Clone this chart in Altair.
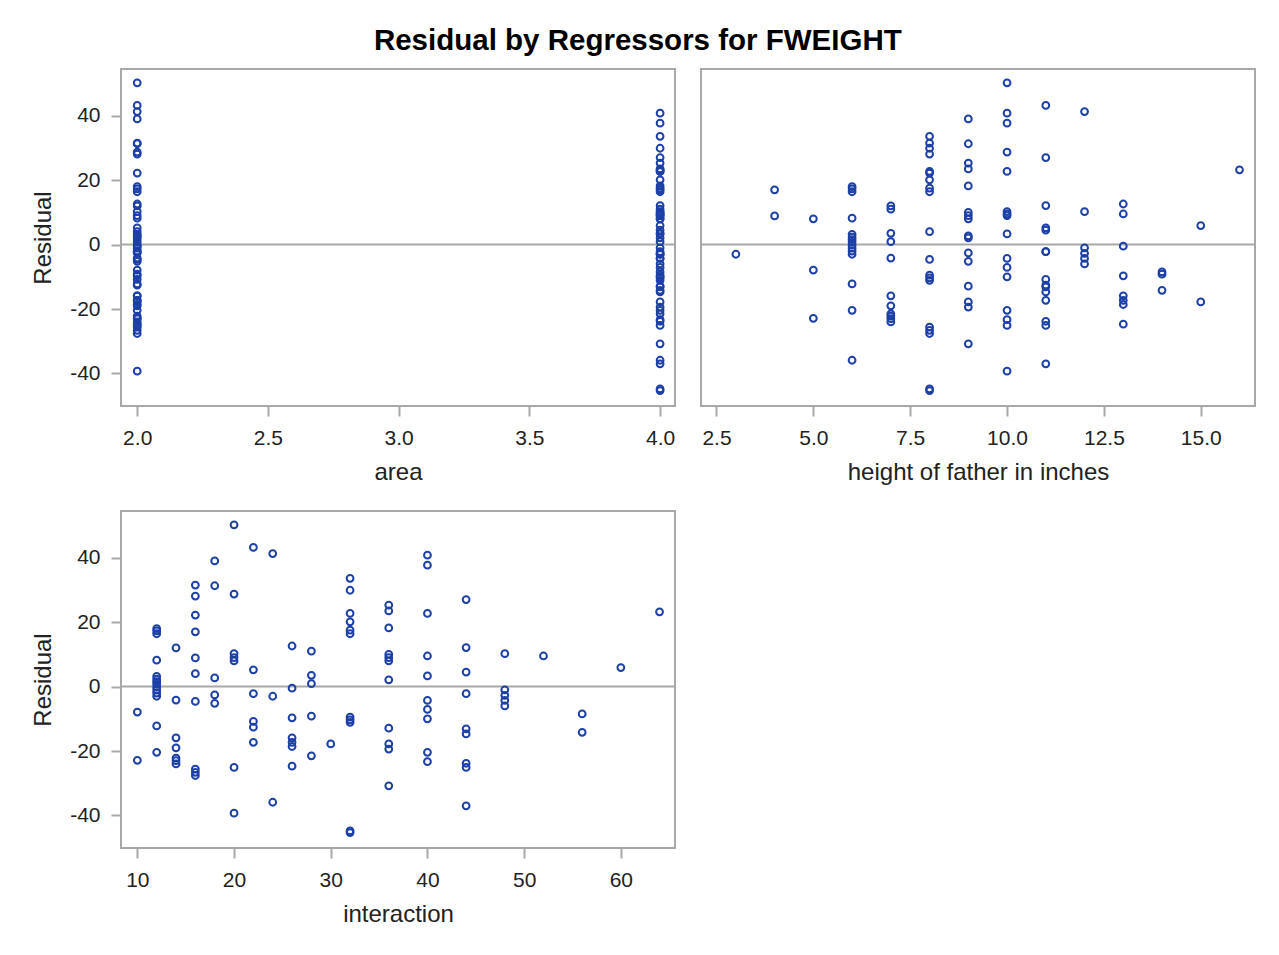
import altair as alt
import pandas as pd

# ---------------- data ----------------
area = [
    2, 2,
    2, 2, 2, 2, 2, 2, 2, 2, 2, 2, 2, 2, 2,
    2, 2, 2, 2, 2, 2, 2,
    2, 2, 2, 2, 2, 2, 2, 2,
    2, 2, 2, 2, 2,
    2, 2, 2, 2, 2, 2,
    2, 2, 2, 2, 2, 2,
    2,
    2, 2, 2, 2, 2, 2, 2,
    2,
    2,
    4,
    4, 4,
    4,
    4, 4,
    4, 4, 4, 4,
    4, 4, 4, 4, 4, 4, 4, 4, 4, 4, 4,
    4, 4, 4, 4, 4, 4, 4, 4, 4, 4, 4,
    4, 4, 4, 4, 4, 4, 4, 4, 4, 4,
    4, 4, 4, 4, 4, 4, 4, 4, 4,
    4, 4, 4, 4, 4,
    4,
    4, 4,
    4,
    4,
]

height = [
    5, 5,
    6, 6, 6, 6, 6, 6, 6, 6, 6, 6, 6, 6, 6,
    7, 7, 7, 7, 7, 7, 7,
    8, 8, 8, 8, 8, 8, 8, 8,
    9, 9, 9, 9, 9,
    10, 10, 10, 10, 10, 10,
    11, 11, 11, 11, 11, 11,
    12,
    13, 13, 13, 13, 13, 13, 13,
    14,
    15,
    3,
    4, 4,
    5,
    6, 6,
    7, 7, 7, 7,
    8, 8, 8, 8, 8, 8, 8, 8, 8, 8, 8,
    9, 9, 9, 9, 9, 9, 9, 9, 9, 9, 9,
    10, 10, 10, 10, 10, 10, 10, 10, 10, 10,
    11, 11, 11, 11, 11, 11, 11, 11, 11,
    12, 12, 12, 12, 12,
    13,
    14, 14,
    15,
    16,
]

interaction = [
    10, 10,
    12, 12, 12, 12, 12, 12, 12, 12, 12, 12, 12, 12, 12,
    14, 14, 14, 14, 14, 14, 14,
    16, 16, 16, 16, 16, 16, 16, 16,
    18, 18, 18, 18, 18,
    20, 20, 20, 20, 20, 20,
    22, 22, 22, 22, 22, 22,
    24,
    26, 26, 26, 26, 26, 26, 26,
    28,
    30,
    12,
    16, 16,
    20,
    24, 24,
    28, 28, 28, 28,
    32, 32, 32, 32, 32, 32, 32, 32, 32, 32, 32,
    36, 36, 36, 36, 36, 36, 36, 36, 36, 36, 36,
    40, 40, 40, 40, 40, 40, 40, 40, 40, 40,
    44, 44, 44, 44, 44, 44, 44, 44, 44,
    48, 48, 48, 48, 48,
    52,
    56, 56,
    60,
    64,
]

residual = [
    -7.9, -22.9,
    18.0, 17.3, 16.4, 8.2, 3.2, 2.3, 1.5, 0.7, -0.2, -1.1, -2.0, -12.2, -20.4,
    12.0, -4.2, -15.9, -19.0, -22.2, -23.0, -24.0,
    31.5, 28.1, 22.2, 4.0, -4.6, -25.6, -26.6, -27.6,
    39.0, 31.3, 2.7, -2.6, -5.2,
    50.2, 28.7, 10.2, 9.0, -25.1, -39.3,
    43.2, 5.2, -2.2, -10.8, -12.6, -17.3,
    41.3,
    12.6, -0.5, -9.7, -15.9, -17.3, -18.6, -24.7,
    -9.2,
    -17.8,
    -3.0,
    17.0, 8.9,
    8.0,
    -3.0, -35.9,
    11.0, 3.5, 0.9, -21.5,
    33.6, 29.9, 22.7, 20.1, 17.5, 16.4, -9.5, -10.3, -11.1, -44.8, -45.3,
    25.3, 23.5, 18.2, 10.0, 9.0, 8.0, 2.1, -12.9, -17.8, -19.4, -30.8,
    40.8, 37.7, 22.7, 9.5, 3.3, -4.3, -7.1, -10.0, -20.4, -23.3,
    27.0, 12.1, 4.5, -2.2, -13.1, -14.7, -23.8, -25.1, -37.0,
    10.2, -1.0, -2.7, -4.3, -6.0,
    9.5,
    -8.5, -14.2,
    5.9,
    23.2,
]

y_ticks = [-40, -20, 0, 20, 40]
area_ticks = [2.0, 2.5, 3.0, 3.5, 4.0]
height_ticks = [2.5, 5.0, 7.5, 10.0, 12.5, 15.0]
inter_ticks = [10, 20, 30, 40, 50, 60]

assert len(area) == len(height) == len(interaction) == len(residual)

df = pd.DataFrame({"area": area, "height": height,
                   "interaction": interaction, "residual": residual})
zero_df = pd.DataFrame({"residual": [0]})

BLUE = "#1c40a6"
GREY = "#a8a8a8"
TEXT = "#222222"
FONT = "Liberation Sans"
W, H = 554, 337
YDOM = [-50.1, 54.5]


def panel(field, xtitle, xdomain, xticks, xfmt, show_y):
    if show_y:
        yaxis = alt.Axis(values=y_ticks, title="Residual",
                         labelExpr="'' + datum.value")
    else:
        yaxis = None
    yscale = alt.Scale(domain=YDOM, nice=False, zero=False)
    pts = alt.Chart(df).mark_point(
        shape="circle", filled=False, size=46, strokeWidth=2,
        color=BLUE, opacity=1
    ).encode(
        x=alt.X(f"{field}:Q",
                scale=alt.Scale(domain=xdomain, nice=False, zero=False),
                axis=alt.Axis(values=xticks, format=xfmt, title=xtitle)),
        y=alt.Y("residual:Q", scale=yscale, axis=yaxis),
    )
    ref = alt.Chart(zero_df).mark_rule(color=GREY, strokeWidth=2).encode(
        y=alt.Y("residual:Q", scale=yscale, axis=yaxis)
    )
    return alt.layer(ref, pts).properties(width=W, height=H)


tl = panel("area", "area", [1.938, 4.057], area_ticks, ".1f", True)
tr = panel("height", "height of father in inches", [2.1, 16.4],
           height_ticks, ".1f", False)
bl = panel("interaction", "interaction", [8.31, 65.6], inter_ticks, "d", True)

chart = alt.vconcat(
    alt.hconcat(tl, tr, spacing=22),
    bl,
    spacing=25,
).properties(
    title=alt.TitleParams(
        "Residual by Regressors for FWEIGHT", fontSize=29.5, font=FONT,
        fontWeight="bold", anchor="middle", offset=12, color="black", dx=-6
    ),
    padding={"left": 22, "top": 17, "right": 5, "bottom": 5},
).configure_view(
    stroke=GREY, strokeWidth=2
).configure_axis(
    labelFont=FONT, labelFontSize=21, labelColor=TEXT,
    titleFont=FONT, titleFontSize=24, titleFontWeight="normal",
    titleColor=TEXT, tickColor=GREY, tickWidth=2, tickSize=10,
    labelPadding=11, domain=False, grid=False, labelFlush=False,
).configure_axisX(
    titlePadding=12
).configure_axisY(
    titlePadding=14
)

chart.save("out.html", embed_options={"renderer": "svg", "actions": False})
